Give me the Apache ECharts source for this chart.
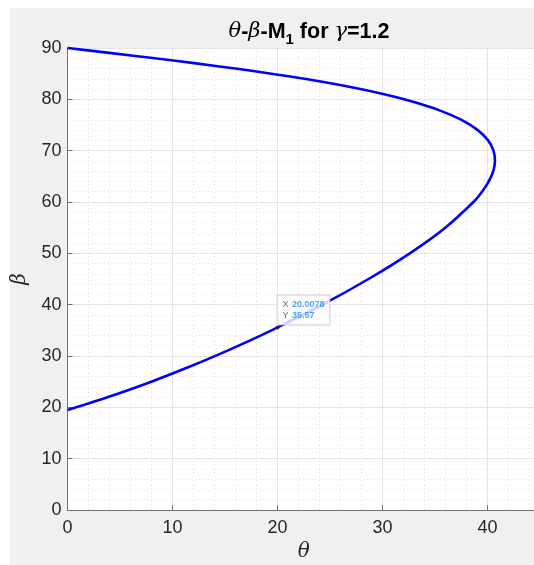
<!DOCTYPE html>
<html><head><meta charset="utf-8">
<script src="https://cdn.jsdelivr.net/npm/echarts@6/dist/echarts.min.js"></script>
<style>html,body{margin:0;padding:0;background:#fff}#c{width:534px;height:565px}</style>
</head><body><div id="c"></div>
<script>
// θ (deg) and β (deg) pairs, lower branch then upper branch
var thetaVals = [0, 1.62, 3.87, 7.98, 11.72, 15.18, 19.43, 24.28, 28.67, 32.60, 35.98, 38.66, 39.48, 40.12, 40.55, 40.71, 40.57, 40.06, 39.07, 37.52, 35.25, 33.00, 30.16, 26.70, 22.57, 19.42, 15.97, 12.25, 8.31, 4.20, 0];
var betaVals  = [19.47, 20.5, 22, 25, 28, 31, 35, 40, 45, 50, 55, 60, 62, 64, 66, 68, 70, 72, 74, 76, 78, 79.5, 81, 82.5, 84, 85, 86, 87, 88, 89, 90];
var xTicks = [0, 10, 20, 30, 40];
var yTicks = [0, 10, 20, 30, 40, 50, 60, 70, 80, 90];
var tipPoint = [20.0078, 35.57];

var curve = thetaVals.map(function (t, i) { return [t, betaVals[i]]; });
var axisCol = '#707070';
var chart = echarts.init(document.getElementById('c'));
chart.setOption({
  backgroundColor: '#fff',
  animation: false,
  graphic: [{ type: 'rect', z: -10, shape: { x: 10, y: 8, width: 530, height: 560 }, style: { fill: '#f0f0f0' } }],
  title: {
    left: 304, top: 12, textAlign: 'center',
    text: '{it|θ}{b|-}{it|β}{b|-M}{sub|1}{b| for }{it|γ}{b|=1.2}',
    textStyle: {
      fontWeight: 'bold',
      rich: {
        it: { fontFamily: 'DejaVu Serif', fontStyle: 'italic', fontWeight: 'normal', fontSize: 21, color: '#000' },
        b: { fontFamily: 'Liberation Sans', fontWeight: 'bold', fontSize: 21.5, color: '#000' },
        sub: { fontFamily: 'Liberation Sans', fontWeight: 'bold', fontSize: 15, color: '#000', verticalAlign: 'bottom', padding: [15, 0, 0, 0] }
      }
    }
  },
  grid: { left: 67.5, width: 472.5, top: 48, height: 462, outerBoundsMode: 'none', containLabel: false,
    show: true, backgroundColor: '#fff', borderWidth: 0 },
  xAxis: {
    type: 'value', min: 0, max: 45, interval: 10,
    name: 'θ', nameLocation: 'middle', nameGap: 30,
    nameTextStyle: { fontFamily: 'DejaVu Serif', fontStyle: 'italic', fontSize: 20, color: '#262626' },
    axisLine: { show: true, onZero: false, lineStyle: { color: axisCol, width: 1 } },
    axisTick: { show: true, inside: true, length: 5, lineStyle: { color: axisCol } },
    axisLabel: { fontFamily: 'Liberation Sans', fontSize: 18, color: '#262626', margin: 9,
      formatter: function (v) { return xTicks.indexOf(v) >= 0 ? String(v) : ''; } },
    splitLine: { show: true, lineStyle: { color: '#e4e4e4', width: 1 } },
    minorTick: { show: true, splitNumber: 5, length: 0 },
    minorSplitLine: { show: true, lineStyle: { color: '#dedede', type: [1, 3], width: 1 } }
  },
  yAxis: {
    type: 'value', min: 0, max: 90, interval: 10,
    name: 'β', nameLocation: 'middle', nameGap: 38,
    nameTextStyle: { fontFamily: 'DejaVu Serif', fontStyle: 'italic', fontSize: 20, color: '#262626' },
    axisLine: { show: true, onZero: false, lineStyle: { color: axisCol, width: 1 } },
    axisTick: { show: true, inside: true, length: 5, lineStyle: { color: axisCol } },
    axisLabel: { fontFamily: 'Liberation Sans', fontSize: 18, color: '#262626', margin: 6,
      formatter: function (v) { return yTicks.indexOf(v) >= 0 ? String(v) : ''; } },
    splitLine: { show: true, lineStyle: { color: '#e4e4e4', width: 1 } },
    minorTick: { show: true, splitNumber: 5, length: 0 },
    minorSplitLine: { show: true, lineStyle: { color: '#dedede', type: [1, 3], width: 1 } }
  },
  series: [
    { type: 'line', data: curve, showSymbol: false, smooth: 0.35, clip: false,
      lineStyle: { color: '#0000ff', width: 2.6 }, z: 3 },
    { type: 'scatter', data: [tipPoint], symbol: 'circle', symbolSize: 4, z: 5,
      itemStyle: { color: '#222' },
      label: {
        show: true, position: [2, -30],
        formatter: '{k|X} {v|' + tipPoint[0] + '}\n{k|Y} {v|' + tipPoint[1] + '}',
        backgroundColor: '#fff', borderColor: '#c8c8c8', borderWidth: 1, padding: [4, 5, 3, 5],
        lineHeight: 11,
        rich: {
          k: { fontFamily: 'Liberation Sans', fontSize: 9, color: '#444', lineHeight: 11 },
          v: { fontFamily: 'Liberation Sans', fontSize: 9, fontWeight: 'bold', color: '#1890ff', lineHeight: 11 }
        }
      }
    }
  ]
});
</script></body></html>
